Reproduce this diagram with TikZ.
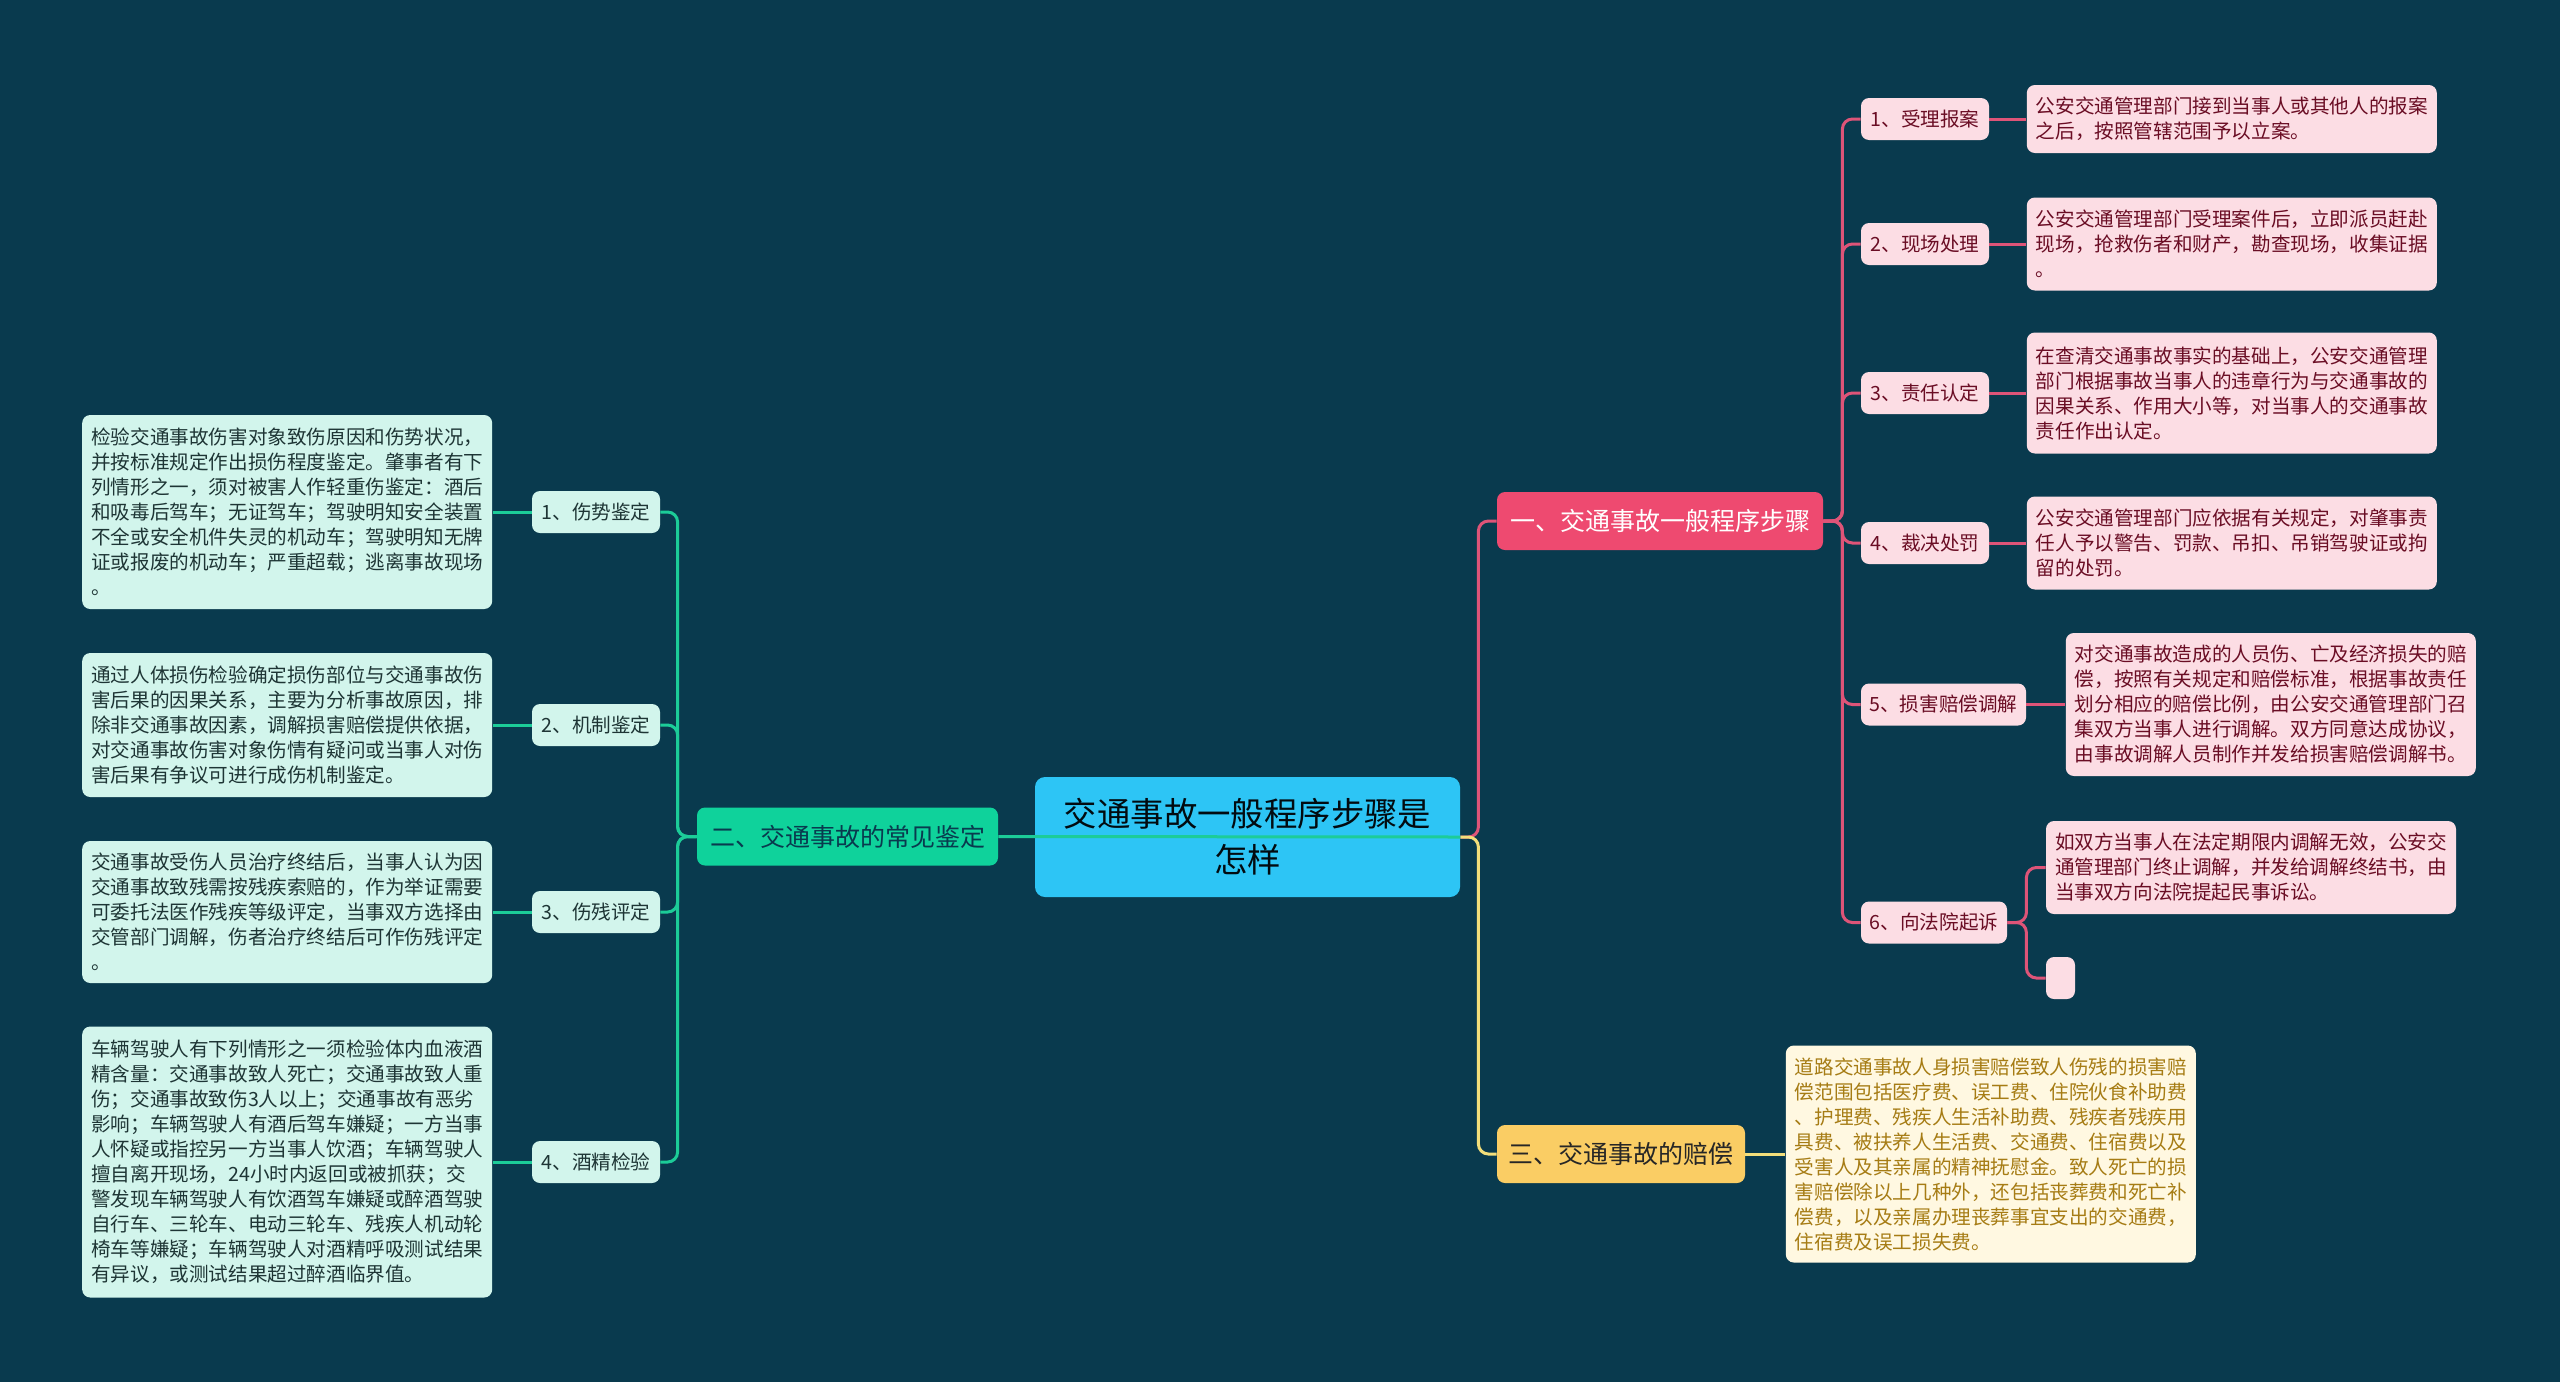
\documentclass[tikz,border=0pt]{standalone}
\usepackage{fontspec}
\setmainfont{Noto Sans CJK SC}
\usetikzlibrary{positioning}

\definecolor{bgcol}{RGB}{9,58,78}
\definecolor{rootcol}{RGB}{45,197,245}
\definecolor{pinkcol}{RGB}{238,74,112}
\definecolor{pinkline}{RGB}{222,84,120}
\definecolor{pinklight}{RGB}{252,221,228}
\definecolor{pinktext}{RGB}{106,13,36}
\definecolor{greencol}{RGB}{15,210,155}
\definecolor{greenline}{RGB}{28,204,152}
\definecolor{greenlight}{RGB}{210,245,236}
\definecolor{greentext}{RGB}{30,53,53}
\definecolor{yellowcol}{RGB}{250,205,100}
\definecolor{yellowline}{RGB}{243,222,122}
\definecolor{yellowlight}{RGB}{255,248,225}
\definecolor{yellowtext}{RGB}{166,124,20}

\begin{document}
\begin{tikzpicture}[x=0.5pt, y=-0.5pt,
    rootbox/.style={fill=rootcol, rounded corners=5pt, minimum width=212.5pt, minimum height=60pt, align=center, text=black!80!bgcol, font=\fontsize{16.7}{22.9}\selectfont},
    mainbox/.style={rounded corners=4pt, minimum height=29pt, font=\fontsize{12.5}{15}\selectfont},
    subbox/.style={rounded corners=4pt, minimum height=21pt, minimum width=64pt, inner xsep=3pt, font=\fontsize{9.8}{12.5}\selectfont},
    descbox/.style={rounded corners=4pt, text width=196pt, inner xsep=4.5pt, align=left, font=\fontsize{9.8}{12.5}\selectfont},
    pinksub/.style={subbox, fill=pinklight, text=pinktext},
    pinkdesc/.style={descbox, fill=pinklight, text=pinktext},
    greensub/.style={subbox, fill=greenlight, text=greentext},
    greendesc/.style={descbox, fill=greenlight, text=greentext},
    pinkedge/.style={draw=pinkline, line width=1.5pt, rounded corners=5pt},
    greenedge/.style={draw=greenline, line width=1.5pt, rounded corners=5pt},
    yellowedge/.style={draw=yellowline, line width=1.5pt, rounded corners=5pt}]

    \fill[bgcol] (0,0) rectangle (2560,1382);

    % center and main branches
    \node[rootbox] (root) at (1247.5,837) {交通事故一般程序步骤是\\怎样};
    \node[mainbox, fill=pinkcol, text=white, minimum width=163pt] (b1) at (1660,521) {一、交通事故一般程序步骤};
    \node[mainbox, fill=greencol, text=bgcol, minimum width=150.5pt] (b2) at (847.5,836.5) {二、交通事故的常见鉴定};
    \node[mainbox, fill=yellowcol, text=black!85, minimum width=124pt] (b3) at (1621,1154) {三、交通事故的赔偿};

    % branch one
    \node[pinksub] (r1) at (1925,119) {1、受理报案};
    \node[pinksub] (r2) at (1925,244) {2、现场处理};
    \node[pinksub] (r3) at (1925,393) {3、责任认定};
    \node[pinksub] (r4) at (1925,543) {4、裁决处罚};
    \node[pinksub, minimum width=82.5pt] (r5) at (1943.5,704.5) {5、损害赔偿调解};
    \node[pinksub, minimum width=73pt] (r6) at (1934,922.5) {6、向法院起诉};
    \node[pinkdesc, minimum height=34pt, right=18.5pt of r1] (d1) {公安交通管理部门接到当事人或其他人的报案\\之后，按照管辖范围予以立案。};
    \node[pinkdesc, minimum height=46.5pt, right=18.5pt of r2] (d2) {公安交通管理部门受理案件后，立即派员赶赴\\现场，抢救伤者和财产，勘查现场，收集证据\\。};
    \node[pinkdesc, minimum height=60.5pt, right=18.5pt of r3] (d3) {在查清交通事故事实的基础上，公安交通管理\\部门根据事故当事人的违章行为与交通事故的\\因果关系、作用大小等，对当事人的交通事故\\责任作出认定。};
    \node[pinkdesc, minimum height=46.5pt, right=18.5pt of r4] (d4) {公安交通管理部门应依据有关规定，对肇事责\\任人予以警告、罚款、吊扣、吊销驾驶证或拘\\留的处罚。};
    \node[pinkdesc, minimum height=71.5pt, right=19.5pt of r5] (d5) {对交通事故造成的人员伤、亡及经济损失的赔\\偿，按照有关规定和赔偿标准，根据事故责任\\划分相应的赔偿比例，由公安交通管理部门召\\集双方当事人进行调解。双方同意达成协议，\\由事故调解人员制作并发给损害赔偿调解书。};
    \node[pinkdesc, minimum height=46.5pt] (d6) at (2251,867.5) {如双方当事人在法定期限内调解无效，公安交\\通管理部门终止调解，并发给调解终结书，由\\当事双方向法院提起民事诉讼。};
    \node[fill=pinklight, rounded corners=4pt, minimum width=14.5pt, minimum height=21pt, inner sep=0pt] (e6) at (2060.5,978) {};

    % branch two
    \node[greensub] (l1) at (596,512) {1、伤势鉴定};
    \node[greensub] (l2) at (596,725) {2、机制鉴定};
    \node[greensub] (l3) at (596,912) {3、伤残评定};
    \node[greensub] (l4) at (596,1162) {4、酒精检验};
    \node[greendesc, minimum height=97pt, left=19.5pt of l1] (g1) {检验交通事故伤害对象致伤原因和伤势状况，\\并按标准规定作出损伤程度鉴定。肇事者有下\\列情形之一，须对被害人作轻重伤鉴定：酒后\\和吸毒后驾车；无证驾车；驾驶明知安全装置\\不全或安全机件失灵的机动车；驾驶明知无牌\\证或报废的机动车；严重超载；逃离事故现场\\。};
    \node[greendesc, minimum height=72pt, left=19.5pt of l2] (g2) {通过人体损伤检验确定损伤部位与交通事故伤\\害后果的因果关系，主要为分析事故原因，排\\除非交通事故因素，调解损害赔偿提供依据，\\对交通事故伤害对象伤情有疑问或当事人对伤\\害后果有争议可进行成伤机制鉴定。};
    \node[greendesc, minimum height=71pt, left=19.5pt of l3] (g3) {交通事故受伤人员治疗终结后，当事人认为因\\交通事故致残需按残疾索赔的，作为举证需要\\可委托法医作残疾等级评定，当事双方选择由\\交管部门调解，伤者治疗终结后可作伤残评定\\。};
    \node[greendesc, minimum height=135.5pt, left=19.5pt of l4] (g4) {车辆驾驶人有下列情形之一须检验体内血液酒\\精含量：交通事故致人死亡；交通事故致人重\\伤；交通事故致伤3人以上；交通事故有恶劣\\影响；车辆驾驶人有酒后驾车嫌疑；一方当事\\人怀疑或指控另一方当事人饮酒；车辆驾驶人\\擅自离开现场，24小时内返回或被抓获；交\\警发现车辆驾驶人有饮酒驾车嫌疑或醉酒驾驶\\自行车、三轮车、电动三轮车、残疾人机动轮\\椅车等嫌疑；车辆驾驶人对酒精呼吸测试结果\\有异议，或测试结果超过醉酒临界值。};

    % branch three
    \node[descbox, fill=yellowlight, text=yellowtext, minimum height=108.5pt, right=20pt of b3] (y1) {道路交通事故人身损害赔偿致人伤残的损害赔\\偿范围包括医疗费、误工费、住院伙食补助费\\、护理费、残疾人生活补助费、残疾者残疾用\\具费、被扶养人生活费、交通费、住宿费以及\\受害人及其亲属的精神抚慰金。致人死亡的损\\害赔偿除以上几种外，还包括丧葬费和死亡补\\偿费，以及亲属办理丧葬事宜支出的交通费，\\住宿费及误工损失费。};

    % connectors
    \draw[pinkedge] (root.east) -- ++(18,0) |- (b1.west);
    \draw[yellowedge] (root.east) -- ++(18,0) |- (b3.west);
    \draw[greenedge] (root.east) -- (b2.east);
    \foreach \n in {r1,r2,r3,r4,r5,r6}
        \draw[pinkedge] (b1.east) -- ++(19,0) |- (\n.west);
    \foreach \n/\m in {r1/d1,r2/d2,r3/d3,r4/d4,r5/d5}
        \draw[pinkedge] (\n.east) -- (\m.west);
    \draw[pinkedge] (r6.east) -- ++(19,0) |- (d6.west);
    \draw[pinkedge] (r6.east) -- ++(19,0) |- (e6.west);
    \foreach \n in {l1,l2,l3,l4}
        \draw[greenedge] (b2.west) -- ++(-19,0) |- (\n.east);
    \foreach \n/\m in {l1/g1,l2/g2,l3/g3,l4/g4}
        \draw[greenedge] (\n.west) -- (\m.east);
    \draw[yellowedge] (b3.east) -- (y1.west);
\end{tikzpicture}
\end{document}
